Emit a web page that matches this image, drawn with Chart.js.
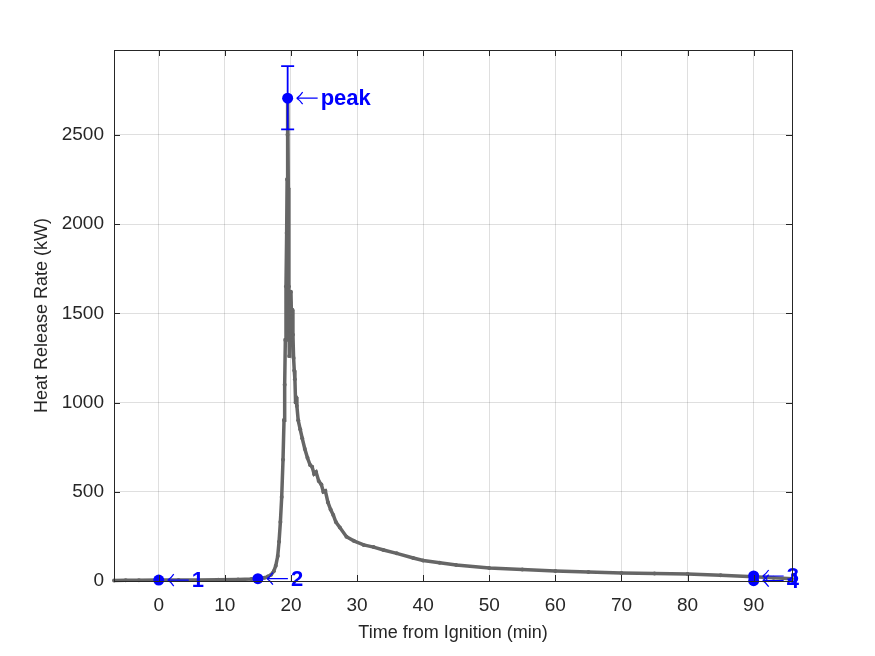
<!DOCTYPE html>
<html>
<head>
<meta charset="utf-8">
<title>Heat Release Rate</title>
<script src="https://cdn.jsdelivr.net/npm/chart.js@4/dist/chart.umd.min.js"></script>
<style>
  body { margin: 0; background: #fff; }
  #hrr { display: block; }
</style>
</head>
<body>
<canvas id="hrr" width="875" height="656"></canvas>
<script>
// measured curve, time in minutes from ignition
const timeMin = [-6.77, -5, -3, 0, 3, 6, 9, 12, 14, 15,
    16, 16.5, 17, 17.4, 17.7, 18.0, 18.2, 18.4, 18.6, 18.8,
    18.95, 19.05, 19.15, 19.25, 19.35, 19.42, 19.48, 19.52, 19.6, 19.68,
    19.75, 19.82, 19.9, 20.0, 20.08, 20.15, 20.22, 20.3, 20.4, 20.5,
    20.6, 20.7, 20.8, 20.9, 21.1, 21.4, 21.7, 22.1, 22.5, 22.9,
    23.2, 23.5, 23.8, 24.2, 24.6, 24.9, 25.2, 25.6, 26.0, 26.4,
    26.8, 27.4, 28.4, 29.5, 31, 32.5, 34, 36, 38.5, 40,
    42.5, 45, 50, 55, 60, 65, 70, 75, 80, 85,
    90, 93, 95.8];
const hrrKW = [3, 4, 4, 5, 5, 6, 7, 9, 11, 13,
    18, 25, 35, 55, 85, 140, 220, 330, 470, 680,
    900, 1100, 1350, 1650, 1950, 2250, 2500, 2690, 2200, 1650,
    1260, 1400, 1560, 1620, 1480, 1350, 1520, 1380, 1250, 1180,
    1130, 1000, 1030, 980, 900, 850, 800, 740, 690, 650,
    640, 600, 610, 560, 540, 500, 505, 440, 400, 370,
    330, 300, 248, 225, 202, 190, 174, 155, 129, 115,
    102, 90, 73, 64, 56, 50, 45, 42, 39, 32,
    24, 18, 12];

// marked events
const markTime = [0, 15, 90, 90, 19.5];
const markHRR = [5, 13, 28, 2, 2705];
const markText = ['1', '2', '3', '4', 'peak'];

// uncertainty on the peak
const peakIndex = 4;
const peakLow = 2530;
const peakHigh = 2885;

const xTicks = [0, 10, 20, 30, 40, 50, 60, 70, 80, 90];
const yTicks = [0, 500, 1000, 1500, 2000, 2500];

const blue = '#0000ff';
const grey = '#666666';
const axisColor = '#262626';
const fontFamily = '"Liberation Sans", Arial, Helvetica, sans-serif';

const annotations = {
    id: 'annotations',
    afterDatasetsDraw(chart) {
        const { ctx, chartArea: a, scales: { x, y } } = chart;
        ctx.save();

        // error bar on the peak
        const ex = x.getPixelForValue(markTime[peakIndex]);
        const eTop = y.getPixelForValue(peakHigh);
        const eBot = y.getPixelForValue(peakLow);
        ctx.strokeStyle = blue;
        ctx.lineWidth = 1.8;
        ctx.beginPath();
        ctx.moveTo(ex, eTop); ctx.lineTo(ex, eBot);
        ctx.moveTo(ex - 6.5, eTop); ctx.lineTo(ex + 6.5, eTop);
        ctx.moveTo(ex - 6.5, eBot); ctx.lineTo(ex + 6.5, eBot);
        ctx.stroke();

        // "<- label" texts
        ctx.fillStyle = blue;
        ctx.textBaseline = 'middle';
        ctx.textAlign = 'left';
        ctx.font = 'bold 22px ' + fontFamily;
        for (let i = 0; i < markText.length; i++) {
            const px = x.getPixelForValue(markTime[i]);
            const py = y.getPixelForValue(markHRR[i]);
            // thin arrow
            ctx.lineWidth = 1.2;
            ctx.beginPath();
            ctx.moveTo(px + 9, py); ctx.lineTo(px + 30, py);
            ctx.moveTo(px + 15, py - 6); ctx.quadraticCurveTo(px + 12, py - 1.5, px + 9, py);
            ctx.moveTo(px + 15, py + 6); ctx.quadraticCurveTo(px + 12, py + 1.5, px + 9, py);
            ctx.stroke();
            ctx.fillText(markText[i], px + 33, py + 1);
        }

        // box with inward ticks (matlab style)
        ctx.strokeStyle = axisColor;
        ctx.lineWidth = 1;
        ctx.strokeRect(Math.round(a.left) + 0.5, Math.round(a.top) + 0.5,
            Math.round(a.right - a.left), Math.round(a.bottom - a.top));
        ctx.beginPath();
        xTicks.forEach(v => {
            const px = Math.round(x.getPixelForValue(v)) + 0.5;
            ctx.moveTo(px, a.bottom); ctx.lineTo(px, a.bottom - 6);
            ctx.moveTo(px, a.top); ctx.lineTo(px, a.top + 6);
        });
        yTicks.forEach(v => {
            const py = Math.round(y.getPixelForValue(v)) + 0.5;
            ctx.moveTo(a.left, py); ctx.lineTo(a.left + 6, py);
            ctx.moveTo(a.right, py); ctx.lineTo(a.right - 6, py);
        });
        ctx.stroke();
        ctx.restore();
    }
};

const ctx = document.getElementById('hrr').getContext('2d');
const chart = new Chart(ctx, {
    type: 'scatter',
    data: {
        datasets: [{
            label: 'events',
            data: markTime.map((t, i) => ({ x: t, y: markHRR[i] })),
            showLine: false,
            pointRadius: 5.5,
            pointBackgroundColor: blue,
            pointBorderColor: blue,
            pointBorderWidth: 0,
            clip: false
        }, {
            label: 'HRR',
            data: timeMin.map((t, i) => ({ x: t, y: hrrKW[i] })),
            showLine: true,
            borderColor: grey,
            borderWidth: 3.5,
            pointRadius: 2,
            pointBackgroundColor: grey,
            pointBorderColor: grey,
            pointBorderWidth: 0,
            tension: 0,
            clip: false
        }]
    },
    options: {
        responsive: false,
        animation: false,
        layout: { padding: { left: 0, right: 83, top: 50, bottom: 0 } },
        plugins: {
            legend: { display: false },
            tooltip: { enabled: false }
        },
        scales: {
            x: {
                type: 'linear',
                min: -6.77,
                max: 95.8,
                afterBuildTicks: axis => { axis.ticks = xTicks.map(v => ({ value: v })); },
                afterFit: axis => { axis.height = 75; },
                grid: { color: 'rgba(38,38,38,0.15)', drawTicks: false },
                border: { display: false },
                ticks: {
                    padding: 13,
                    color: axisColor,
                    font: { family: fontFamily, size: 19 },
                    maxRotation: 0,
                    callback: v => String(v)
                },
                title: {
                    display: true,
                    text: 'Time from Ignition (min)',
                    color: axisColor,
                    font: { family: fontFamily, size: 18 },
                    padding: { top: 0, bottom: 12 }
                }
            },
            y: {
                type: 'linear',
                min: 0,
                max: 2975,
                afterBuildTicks: axis => { axis.ticks = yTicks.map(v => ({ value: v })); },
                afterFit: axis => { axis.width = 114; },
                grid: { color: 'rgba(38,38,38,0.15)', drawTicks: false },
                border: { display: false },
                ticks: {
                    padding: 10,
                    color: axisColor,
                    font: { family: fontFamily, size: 19 },
                    callback: v => String(v)
                },
                title: {
                    display: true,
                    text: 'Heat Release Rate (kW)',
                    color: axisColor,
                    font: { family: fontFamily, size: 18 },
                    padding: { top: 31, bottom: 0 }
                }
            }
        }
    },
    plugins: [annotations]
});
</script>
</body>
</html>
